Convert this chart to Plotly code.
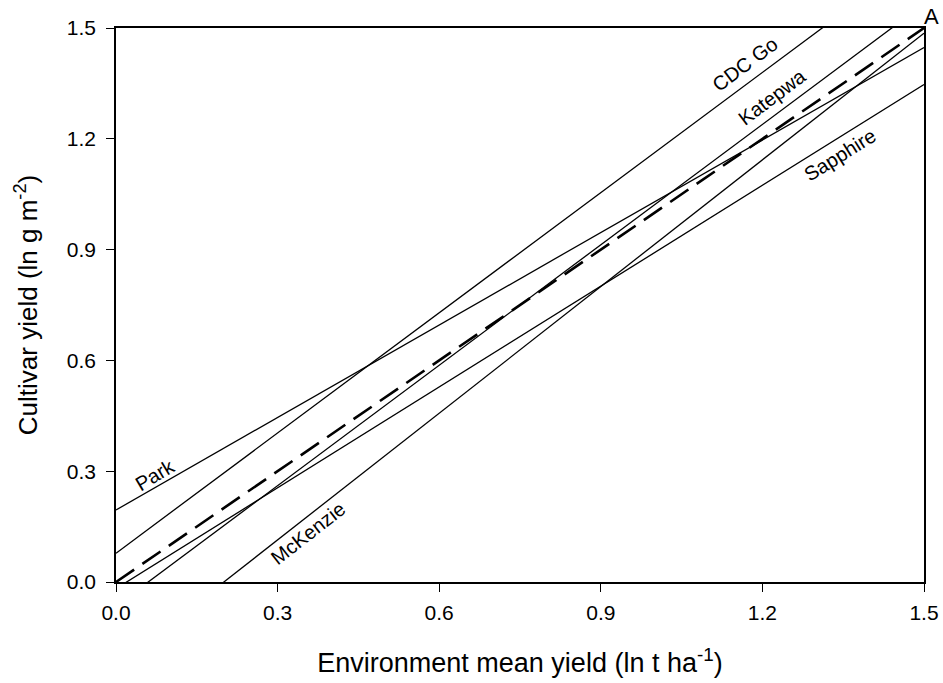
import plotly.graph_objects as go

# Regression lines: value at x = 0 and at x = 1.5
x_ends = [0.0, 1.5]
cultivars = ["Park", "CDC Go", "Katepwa", "McKenzie", "Sapphire"]
park = [0.195, 1.447]
cdc_go = [0.078, 1.705]
katepwa = [-0.065, 1.565]
mckenzie = [-0.229, 1.486]
sapphire = [-0.018, 1.347]
mean_line = [0.0, 1.5]

tick_vals = [0.0, 0.3, 0.6, 0.9, 1.2, 1.5]
tick_text = ["0.0", "0.3", "0.6", "0.9", "1.2", "1.5"]

FONT = "Liberation Sans, Arial, sans-serif"

fig = go.Figure()
for name, ys in zip(cultivars, [park, cdc_go, katepwa, mckenzie, sapphire]):
    fig.add_trace(go.Scatter(x=x_ends, y=ys, mode="lines", name=name,
                             line=dict(color="black", width=1.3), showlegend=False))
fig.add_trace(go.Scatter(x=x_ends, y=mean_line, mode="lines", name="Mean",
                         line=dict(color="black", width=2.6, dash="22px,10px"),
                         showlegend=False))

# label positions (data coords) and angles
labels = [
    ("Park", 0.072, 0.29, -31),
    ("CDC Go", 1.168, 1.403, -37),
    ("Katepwa", 1.218, 1.313, -37),
    ("McKenzie", 0.357, 0.133, -38),
    ("Sapphire", 1.344, 1.156, -32),
]
for txt, lx, ly, ang in labels:
    fig.add_annotation(x=lx, y=ly, text=txt, showarrow=False, textangle=ang,
                       font=dict(family=FONT, size=20, color="black"))
fig.add_annotation(x=1.0, y=1.0, xref="paper", yref="paper", text="A", showarrow=False,
                   xanchor="left", yanchor="bottom", xshift=-2, yshift=-3,
                   font=dict(family=FONT, size=22, color="black"))

axis_common = dict(range=[0, 1.5], tickvals=tick_vals, ticktext=tick_text,
                   ticks="outside", ticklen=8, tickwidth=1.3, tickcolor="black",
                   showline=True, linecolor="black", linewidth=1.6, mirror=True,
                   showgrid=False, zeroline=False, automargin=False,
                   tickfont=dict(family=FONT, size=21, color="black"))

fig.update_layout(
    width=943, height=683,
    margin=dict(l=116, r=19, t=28, b=101),
    paper_bgcolor="white", plot_bgcolor="white",
    xaxis=dict(**axis_common, ticklabelstandoff=3,
               title=dict(text="Environment mean yield (ln t ha<sup>-1</sup>)",
                          font=dict(family=FONT, size=27, color="black"), standoff=30)),
    yaxis=dict(**axis_common, ticklabelstandoff=6,
               title=dict(text="Cultivar yield (ln g m<sup>-2</sup>)",
                          font=dict(family=FONT, size=26, color="black"), standoff=22)),
)

fig.write_html("out.html")
